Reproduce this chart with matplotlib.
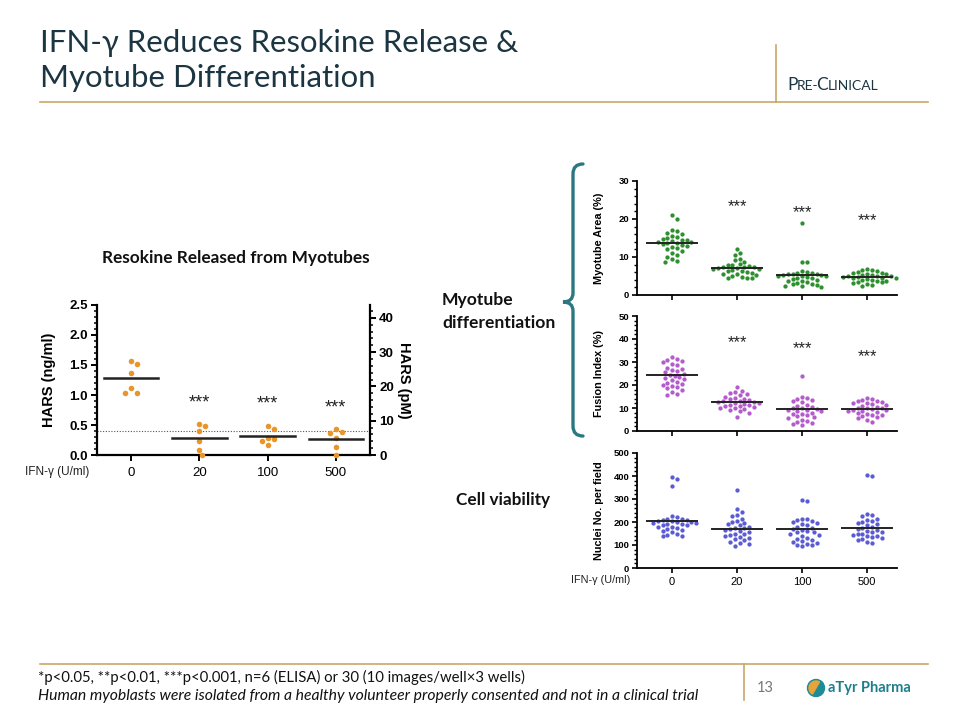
import numpy as np
import matplotlib
matplotlib.use("Agg")
import matplotlib.pyplot as plt
import matplotlib.patches as mpatches
from matplotlib.path import Path
from matplotlib.ticker import MultipleLocator, FormatStrFormatter

# ---- data ----
doses = ["0", "20", "100", "500"]

# ELISA, HARS in ng/ml (n=6 per dose)
hars_ngml = [
    [1.56, 1.51, 1.37, 1.11, 1.03, 1.03],
    [0.51, 0.48, 0.40, 0.23, 0.09, 0.00],
    [0.48, 0.43, 0.28, 0.27, 0.24, 0.17],
    [0.44, 0.38, 0.36, 0.28, 0.13, 0.00],
]
hars_mean = [1.28, 0.28, 0.32, 0.27]
hars_lloq = 0.4
ngml_to_pm = 17.5
hars_star_y = [None, 0.87, 0.85, 0.78]

myotube_area = [
    [21.0, 20.0, 17.0, 16.8, 16.3, 16.0, 15.5, 15.2, 15.0, 14.8, 14.6, 14.4, 14.2, 14.0, 14.0,
     13.8, 13.6, 13.4, 13.2, 13.0, 12.7, 12.4, 12.0, 11.6, 11.0, 10.6, 10.0, 9.6, 9.0, 8.8],
    [12.2, 11.0, 10.5, 9.6, 9.2, 8.6, 8.2, 8.0, 7.8, 7.6, 7.5, 7.4, 7.3, 7.2, 7.0,
     6.9, 6.8, 6.5, 6.3, 6.2, 6.0, 5.8, 5.6, 5.5, 5.3, 5.0, 4.8, 4.6, 4.5, 4.4],
    [19.0, 8.8, 8.6, 6.4, 6.1, 5.9, 5.7, 5.6, 5.5, 5.4, 5.3, 5.2, 5.1, 5.0, 4.9,
     4.8, 4.6, 4.4, 4.2, 4.0, 3.8, 3.6, 3.4, 3.2, 3.0, 2.8, 2.6, 2.5, 2.4, 2.2],
    [6.9, 6.7, 6.5, 6.3, 6.1, 5.9, 5.8, 5.6, 5.5, 5.3, 5.2, 5.1, 5.0, 4.9, 4.8,
     4.7, 4.6, 4.5, 4.4, 4.2, 4.0, 3.9, 3.8, 3.6, 3.5, 3.3, 3.1, 2.9, 2.6, 2.3],
]
area_mean = [13.8, 7.2, 5.3, 4.7]
area_star_y = [None, 23.2, 21.7, 19.5]

fusion_index = [
    [32.0, 31.5, 31.0, 30.5, 30.0, 29.0, 28.5, 27.5, 27.0, 26.5, 26.0, 25.5, 25.0, 24.5, 24.0,
     23.5, 23.0, 22.5, 22.0, 21.5, 21.0, 20.5, 20.0, 19.5, 19.0, 18.5, 18.0, 17.0, 16.0, 15.5],
    [19.0, 17.5, 17.0, 16.5, 16.0, 15.5, 15.0, 14.5, 14.0, 13.8, 13.5, 13.2, 13.0, 12.8, 12.5,
     12.2, 12.0, 11.8, 11.5, 11.2, 11.0, 10.8, 10.5, 10.0, 9.8, 9.5, 9.0, 8.5, 8.0, 6.0],
    [24.0, 15.0, 14.5, 14.0, 13.5, 13.0, 12.5, 11.5, 11.0, 10.5, 10.0, 9.8, 9.5, 9.2, 9.0,
     8.8, 8.5, 8.0, 7.5, 7.2, 7.0, 6.5, 6.0, 5.5, 5.0, 4.5, 4.0, 3.5, 3.0, 2.5],
    [14.5, 14.0, 13.5, 13.2, 13.0, 12.5, 12.2, 12.0, 11.8, 11.5, 11.0, 10.5, 10.2, 10.0, 9.8,
     9.5, 9.2, 9.0, 8.8, 8.5, 8.2, 8.0, 7.5, 7.0, 6.8, 6.5, 6.0, 5.5, 5.0, 4.0],
]
fusion_mean = [24.3, 12.7, 9.4, 9.5]
fusion_star_y = [None, 38.4, 36.0, 32.5]

nuclei = [
    [395, 385, 355, 225, 220, 215, 212, 210, 208, 205, 203, 200, 198, 196, 195,
     193, 190, 188, 185, 180, 178, 175, 170, 165, 160, 155, 150, 145, 140, 138],
    [340, 255, 245, 230, 225, 215, 205, 198, 195, 190, 185, 180, 175, 172, 168,
     165, 160, 155, 150, 148, 145, 140, 135, 130, 125, 120, 115, 110, 105, 95],
    [295, 290, 215, 212, 208, 205, 200, 195, 190, 185, 180, 175, 170, 165, 160,
     158, 155, 150, 145, 140, 130, 125, 120, 118, 115, 110, 105, 100, 98, 95],
    [405, 398, 235, 230, 225, 215, 210, 205, 200, 195, 190, 185, 180, 175, 170,
     165, 160, 158, 155, 150, 148, 145, 140, 138, 135, 130, 125, 120, 112, 108],
]
nuclei_mean = [203, 169, 168, 176]

# ---- styling ----
W, H = 960, 720
GOLD = "#C9A86A"
TEAL = "#2B7782"
NAVY = "#1B3542"
SLIDE_FONT = ["Lato", "DejaVu Sans"]
PLOT_FONT = ["Liberation Sans", "DejaVu Sans"]
NARROW_FONT = ["Liberation Sans Narrow", "Liberation Sans", "DejaVu Sans"]

plt.rcParams["font.family"] = PLOT_FONT

fig = plt.figure(figsize=(W / 100, H / 100), dpi=100)

# full-figure overlay in pixel coordinates for slide decoration
bg = fig.add_axes([0, 0, 1, 1], zorder=-1)
bg.set_xlim(0, W)
bg.set_ylim(H, 0)
bg.axis("off")


def px_axes(x0, y0, x1, y1):
    return fig.add_axes([x0 / W, 1 - y1 / H, (x1 - x0) / W, (y1 - y0) / H])


def swarm(values, px_per_x, px_per_y, dot_px):
    # simple greedy beeswarm, offsets returned in data units
    placed = []
    offs = []
    steps = [0]
    for k in range(1, 40):
        steps += [k * 0.5, -k * 0.5]
    for v in values:
        y = v * px_per_y
        for s in steps:
            x = s * dot_px
            if all((x - px) ** 2 + (y - py) ** 2 >= dot_px ** 2 for px, py in placed):
                break
        placed.append((x, y))
        offs.append(x / px_per_x)
    return offs


def style_graphpad(ax, tick_size):
    for side in ["top", "right"]:
        ax.spines[side].set_visible(False)
    for side in ["left", "bottom"]:
        ax.spines[side].set_linewidth(1.3)
    ax.tick_params(axis="y", which="major", length=3.5, width=1.2, labelsize=tick_size, pad=2)
    ax.tick_params(axis="y", which="minor", length=2, width=1.0)
    ax.tick_params(axis="x", which="major", length=3.5, width=1.2, pad=3)
    for lab in ax.get_yticklabels():
        lab.set_fontweight("bold")


def dot_panel(ax, groups, means, color, ylim, major, minor, ylabel, star_y=None, show_x=False):
    x0, x1 = -0.54, 3.46
    ax.set_xlim(x0, x1)
    ax.set_ylim(*ylim)
    bbox = ax.get_position()
    px_x = bbox.width * W / (x1 - x0)
    px_y = bbox.height * H / (ylim[1] - ylim[0])
    for i, vals in enumerate(groups):
        offs = swarm(vals, px_x, px_y, 4.8)
        ax.scatter(np.array(offs) + i, vals, s=9.5, color=color, linewidths=0, zorder=3, clip_on=False)
        ax.plot([i - 0.38, i + 0.38], [means[i], means[i]], color="#222222", lw=1.4, zorder=4)
        if star_y is not None and star_y[i] is not None:
            ax.text(i, star_y[i], "***", ha="center", va="center", fontsize=12, color="#222222")
    ax.yaxis.set_major_locator(MultipleLocator(major))
    ax.yaxis.set_minor_locator(MultipleLocator(minor))
    ax.set_xticks(range(len(groups)))
    if show_x:
        ax.set_xticklabels(doses, fontsize=8)
    else:
        ax.set_xticklabels([])
    style_graphpad(ax, 6.8)
    ax.set_ylabel(ylabel, fontsize=7.8, fontweight="bold", family=NARROW_FONT)
    ax.yaxis.set_label_coords(-0.125, 0.5)


# ---- left panel: HARS ELISA ----
axL = px_axes(97, 305, 370, 455)
axL.set_xlim(-0.5, 3.5)
axL.set_ylim(0, 2.5)
bb = axL.get_position()
px_x = bb.width * W / 4.0
px_y = bb.height * H / 2.5
for i, vals in enumerate(hars_ngml):
    offs = swarm(vals, px_x, px_y, 6.0)
    axL.scatter(np.array(offs) + i, vals, s=16, color="#E8962C", linewidths=0, zorder=3, clip_on=False)
    axL.plot([i - 0.4, i + 0.4], [hars_mean[i], hars_mean[i]], color="#222222", lw=1.8, zorder=4)
    if hars_star_y[i] is not None:
        axL.text(i, hars_star_y[i], "***", ha="center", va="center", fontsize=13, color="#222222")
axL.axhline(hars_lloq, color="#555555", lw=0.8, ls=(0, (1, 1.5)), zorder=1)
axL.spines["top"].set_visible(False)
axL.spines["right"].set_visible(False)
for side in ["left", "bottom"]:
    axL.spines[side].set_linewidth(1.6)
axL.yaxis.set_major_locator(MultipleLocator(0.5))
axL.yaxis.set_minor_locator(MultipleLocator(0.1))
axL.set_xticks(range(4))
axL.set_xticklabels(doses, fontsize=9.5)
axL.tick_params(axis="y", which="major", length=4.5, width=1.4, labelsize=9.5, pad=2)
axL.tick_params(axis="y", which="minor", length=2.5, width=1.1)
axL.tick_params(axis="x", which="major", length=4, width=1.4, pad=5)
axL.yaxis.set_major_formatter(FormatStrFormatter("%.1f"))
for lab in axL.get_yticklabels():
    lab.set_fontweight("bold")
axL.set_ylabel("HARS (ng/ml)", fontsize=10.5, fontweight="bold")
axL.yaxis.set_label_coords(-0.15, 0.5)

axR = axL.twinx()
axR.set_ylim(0, 2.5 * ngml_to_pm)
for side in ["top", "left", "bottom"]:
    axR.spines[side].set_visible(False)
axR.spines["right"].set_linewidth(1.6)
axR.yaxis.set_major_locator(MultipleLocator(10))
axR.yaxis.set_minor_locator(MultipleLocator(2))
axR.tick_params(axis="y", which="major", length=4.5, width=1.4, labelsize=9.5, pad=2)
axR.tick_params(axis="y", which="minor", length=2.5, width=1.1)
for lab in axR.get_yticklabels():
    lab.set_fontweight("bold")
axR.set_ylabel("HARS (pM)", fontsize=10.5, fontweight="bold", rotation=-90)
axR.yaxis.set_label_coords(1.15, 0.5)

bg.text(236, 258, "Resokine Released from Myotubes", ha="center", va="center",
        fontsize=12.4, fontweight="bold", family=SLIDE_FONT, color="#111111")
bg.text(25, 472, "IFN-γ (U/ml)", ha="left", va="center", fontsize=8.5, color="#222222")

# ---- right panels: myotube differentiation and viability ----
ax1 = px_axes(637, 181, 897, 295)
dot_panel(ax1, myotube_area, area_mean, "#2E8F2E", (0, 30), 10, 2, "Myotube Area (%)", area_star_y)
ax2 = px_axes(637, 316, 897, 431)
dot_panel(ax2, fusion_index, fusion_mean, "#B35CCB", (0, 50), 10, 2, "Fusion Index (%)", fusion_star_y)
ax3 = px_axes(637, 453, 897, 568)
dot_panel(ax3, nuclei, nuclei_mean, "#5B5BD3", (0, 500), 100, 20, "Nuclei No. per field", show_x=True)
bg.text(571, 580, "IFN-γ (U/ml)", ha="left", va="center", fontsize=7.8, color="#222222")

# bracket
verts = [(583, 164), (573, 164), (573, 174), (573, 293), (573, 302), (563, 302),
         (573, 302), (573, 311), (573, 426), (573, 436), (583, 436)]
codes = [Path.MOVETO, Path.CURVE3, Path.CURVE3, Path.LINETO, Path.CURVE3, Path.CURVE3,
         Path.CURVE3, Path.CURVE3, Path.LINETO, Path.CURVE3, Path.CURVE3]
bg.add_patch(mpatches.PathPatch(Path(verts, codes), fill=False, edgecolor=TEAL, lw=2.4,
                                capstyle="round"))

bg.text(442, 305, "Myotube", ha="left", va="baseline", fontsize=12.6,
        fontweight="bold", family=SLIDE_FONT, color="#111111")
bg.text(442, 328, "differentiation", ha="left", va="baseline", fontsize=12.6,
        fontweight="bold", family=SLIDE_FONT, color="#111111")
bg.text(456, 500, "Cell viability", ha="left", va="center", fontsize=12.3,
        fontweight="bold", family=SLIDE_FONT, color="#111111")

# ---- slide header ----
bg.text(40, 52, "IFN-γ Reduces Resokine Release &", ha="left", va="baseline",
        fontsize=22.4, family=SLIDE_FONT, color=NAVY)
bg.text(40, 87, "Myotube Differentiation", ha="left", va="baseline",
        fontsize=22.4, family=SLIDE_FONT, color=NAVY)
bg.plot([40, 928], [102, 102], color=GOLD, lw=1.2)
bg.plot([776, 776], [45, 102], color=GOLD, lw=1.2)

# small caps label, drawn piece by piece
renderer = fig.canvas.get_renderer()
xcur = 787
for piece, size in [("P", 12.5), ("RE-", 10), ("C", 12.5), ("LINICAL", 10)]:
    t = bg.text(xcur, 90.5, piece, ha="left", va="baseline", fontsize=size,
                family=SLIDE_FONT, color=NAVY)
    ext = t.get_window_extent(renderer)
    xcur += ext.width - (2.5 if piece.endswith("-") else 0.3)

# ---- footer ----
bg.plot([40, 928], [664, 664], color=GOLD, lw=1.2)
bg.plot([744, 744], [664, 700], color=GOLD, lw=1.2)
bg.text(38, 682, "*p<0.05, **p<0.01, ***p<0.001, n=6 (ELISA) or 30 (10 images/well×3 wells)",
        ha="left", va="baseline", fontsize=10.7, family=SLIDE_FONT, color="#111111")
bg.text(38, 700, "Human myoblasts were isolated from a healthy volunteer properly consented "
        "and not in a clinical trial", ha="left", va="baseline", fontsize=11.3,
        family=SLIDE_FONT, style="italic", color="#111111")
bg.text(757, 688, "13", ha="left", va="center", fontsize=10.5, family=SLIDE_FONT, color="#777777")

# logo
bg.add_patch(mpatches.Circle((816, 688), 8.5, color="#1E8C96"))
bg.add_patch(mpatches.Wedge((816, 688), 7.0, 120, 300, color="#E8A43A"))
bg.text(828, 688, "aTyr Pharma", ha="left", va="center", fontsize=10.5, fontweight="bold",
        family=SLIDE_FONT, color="#1E7F8C")

fig.savefig("out.png", dpi=100)
